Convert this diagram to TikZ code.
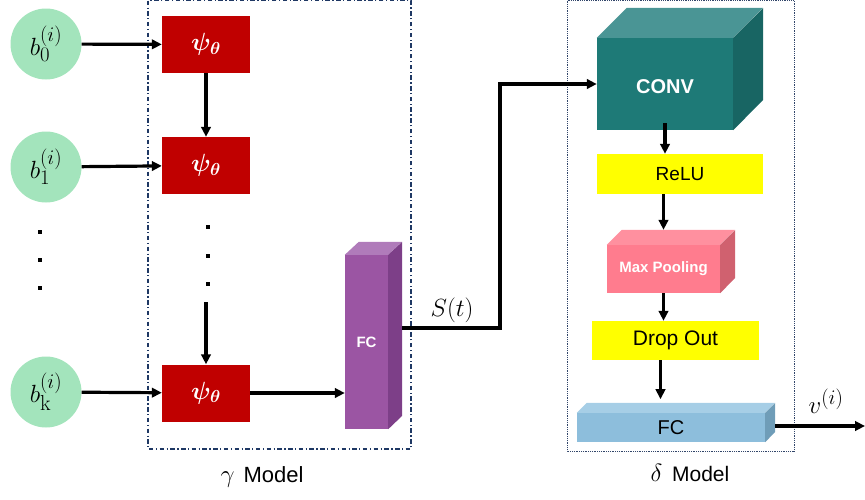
\documentclass[tikz,border=0pt]{standalone}
\usepackage{fontspec}
\setsansfont{Liberation Sans}
\usepackage{bm}
\usetikzlibrary{arrows.meta}
\definecolor{circgreen}{HTML}{A3E4BC}
\definecolor{psired}{HTML}{C00000}
\definecolor{purfront}{HTML}{9B55A3}
\definecolor{purtop}{HTML}{B07BBA}
\definecolor{purside}{HTML}{7D3F88}
\definecolor{tealfront}{HTML}{1E7A77}
\definecolor{tealtop}{HTML}{4A9595}
\definecolor{tealside}{HTML}{186563}
\definecolor{pinkfront}{HTML}{FF7C8E}
\definecolor{pinktop}{HTML}{FF909F}
\definecolor{pinkside}{HTML}{D0616F}
\definecolor{bluefront}{HTML}{8DBEDC}
\definecolor{bluetop}{HTML}{A6CEE6}
\definecolor{blueside}{HTML}{6F9DB8}
\definecolor{hiyellow}{HTML}{FFFF00}
\definecolor{framenavy}{HTML}{1F3864}
\begin{document}
\begin{tikzpicture}[x=1pt,y=-1pt,
  arr/.style={line width=3.2pt,-{Triangle[length=10pt,width=9.5pt]}},
  circ/.style={circle,fill=circgreen,minimum size=71pt,inner sep=0pt,font=\fontsize{31}{35}\selectfont},
  psibox/.style={fill=psired,minimum width=88pt,minimum height=57pt,inner sep=0pt,text=white,font=\fontsize{25}{29}\selectfont},
  front/.style={inner sep=0pt,font=\sffamily},
  hilite/.style={fill=hiyellow,inner sep=0pt,font=\sffamily\fontsize{19}{22}\selectfont},
  dotsq/.style={fill=black,minimum size=3.5pt,inner sep=0pt},
  lbl/.style={inner sep=0pt,font=\fontsize{22}{26}\selectfont}
]
\useasboundingbox (0,0) rectangle (865,499);

% frames
\draw[framenavy,line width=1.1pt,dash pattern=on 4.5pt off 2.5pt on 1.2pt off 2.5pt] (148,0.5) rectangle (411,449);
\draw[framenavy!80!gray,line width=0.9pt,dash pattern=on 0.9pt off 0.9pt] (567,0.5) rectangle (794,451);

% input circles
\node[circ] (b0) at (46,44) {$b_0^{(i)}$};
\node[circ] (b1) at (46,167) {$b_1^{(i)}$};
\node[circ] (bk) at (46,392) {$b_{\mathrm{k}}^{(i)}$};
\node[dotsq] (ld1) at (40,232) {};
\node[dotsq] (ld2) at (40,260) {};
\node[dotsq] (ld3) at (40,288) {};

% psi boxes
\node[psibox] (psi1) at (206,44.5) {$\bm{\psi_\theta}$};
\node[psibox] (psi2) at (206,165.5) {$\bm{\psi_\theta}$};
\node[psibox] (psi3) at (206,393) {$\bm{\psi_\theta}$};
\node[dotsq] (md1) at (208,227) {};
\node[dotsq] (md2) at (208,256) {};
\node[dotsq] (md3) at (208,284) {};
\coordinate (mdend) at (206,302);

% purple FC
\node[front,fill=purfront,minimum width=43pt,minimum height=174pt,text=white,font=\sffamily\bfseries\fontsize{15}{18}\selectfont] (fcg) at (366.5,342) {FC};
\fill[purtop] (fcg.north west) -- ++(14,-13) -- ++(43,0) -- (fcg.north east) -- cycle;
\fill[purside] (fcg.north east) -- ++(14,-13) -- ++(0,174) -- (fcg.south east) -- cycle;

% arrows gamma
\draw[arr] (b0) -- (psi1);
\draw[arr] (b1) -- (psi2);
\draw[arr] (bk) -- (psi3);
\draw[arr] (psi1) -- (psi2);
\draw[arr] (mdend) -- (psi3);
\draw[arr] (psi3) -- (fcg.west |- psi3.east);

% CONV
\node[front,fill=tealfront,minimum width=136pt,minimum height=92pt] (conv) at (665,84) {};
\fill[tealtop] (conv.north west) -- ++(30,-30) -- ++(136,0) -- (conv.north east) -- cycle;
\fill[tealside] (conv.north east) -- ++(30,-30) -- ++(0,92) -- (conv.south east) -- cycle;
\node[text=white,font=\sffamily\bfseries\fontsize{20}{24}\selectfont] (convtxt) at (665,87) {CONV};

% ReLU
\node[hilite,minimum width=166pt,minimum height=40pt] (relu) at (680,174) {ReLU};

% Max pooling
\node[front,fill=pinkfront,minimum width=113pt,minimum height=48pt,text=white,font=\sffamily\bfseries\fontsize{15}{18}\selectfont] (mp) at (663.5,269) {Max Pooling};
\fill[pinktop] (mp.north west) -- ++(15,-15) -- ++(113,0) -- (mp.north east) -- cycle;
\fill[pinkside] (mp.north east) -- ++(15,-15) -- ++(0,48) -- (mp.south east) -- cycle;

% Drop out
\node[hilite,minimum width=167pt,minimum height=39pt,font=\sffamily\fontsize{21}{24}\selectfont] (drop) at (675.5,340.5) {Drop Out};

% blue FC
\node[front,fill=bluefront,minimum width=188pt,minimum height=29pt,font=\sffamily\fontsize{20}{24}\selectfont] (fcb) at (671,427.5) {FC};
\fill[bluetop] (fcb.north west) -- ++(10,-10) -- ++(188,0) -- (fcb.north east) -- cycle;
\fill[blueside] (fcb.north east) -- ++(10,-10) -- ++(0,29) -- (fcb.south east) -- cycle;

% delta arrows
\draw[arr] ([yshift=7pt]conv.south) -- (conv.south |- relu.north);
\draw[arr] (mp.north |- relu.south) -- ([yshift=15pt]mp.north);
\draw[arr] (mp.south) -- (mp.south |- drop.north);
\draw[arr] ([xshift=-15pt]drop.south) -- ++(0,39);

% S(t) connector
\coordinate (fcout) at (402,328);
\coordinate (bend) at (500,328);
\draw[arr,line join=miter] (fcout) -- (bend) |- (conv.west);
\node[lbl,font=\fontsize{28}{32}\selectfont] (st) at (452,310) {$S(t)$};

% output
\coordinate (fcbout) at (775,426);
\coordinate (vout) at (865,426);
\draw[arr] (fcbout) -- (vout);
\node[lbl,font=\fontsize{28}{32}\selectfont] (v) at (826,401) {$v^{(i)}$};

% model labels
\node[lbl] (gml) at (262,477) {\fontsize{30}{34}\selectfont$\gamma$ \fontsize{22}{26}\selectfont\sffamily Model};
\node[lbl] (dml) at (690,473) {\fontsize{32}{36}\selectfont$\delta$ \fontsize{21}{25}\selectfont\sffamily Model};
\end{tikzpicture}
\end{document}
